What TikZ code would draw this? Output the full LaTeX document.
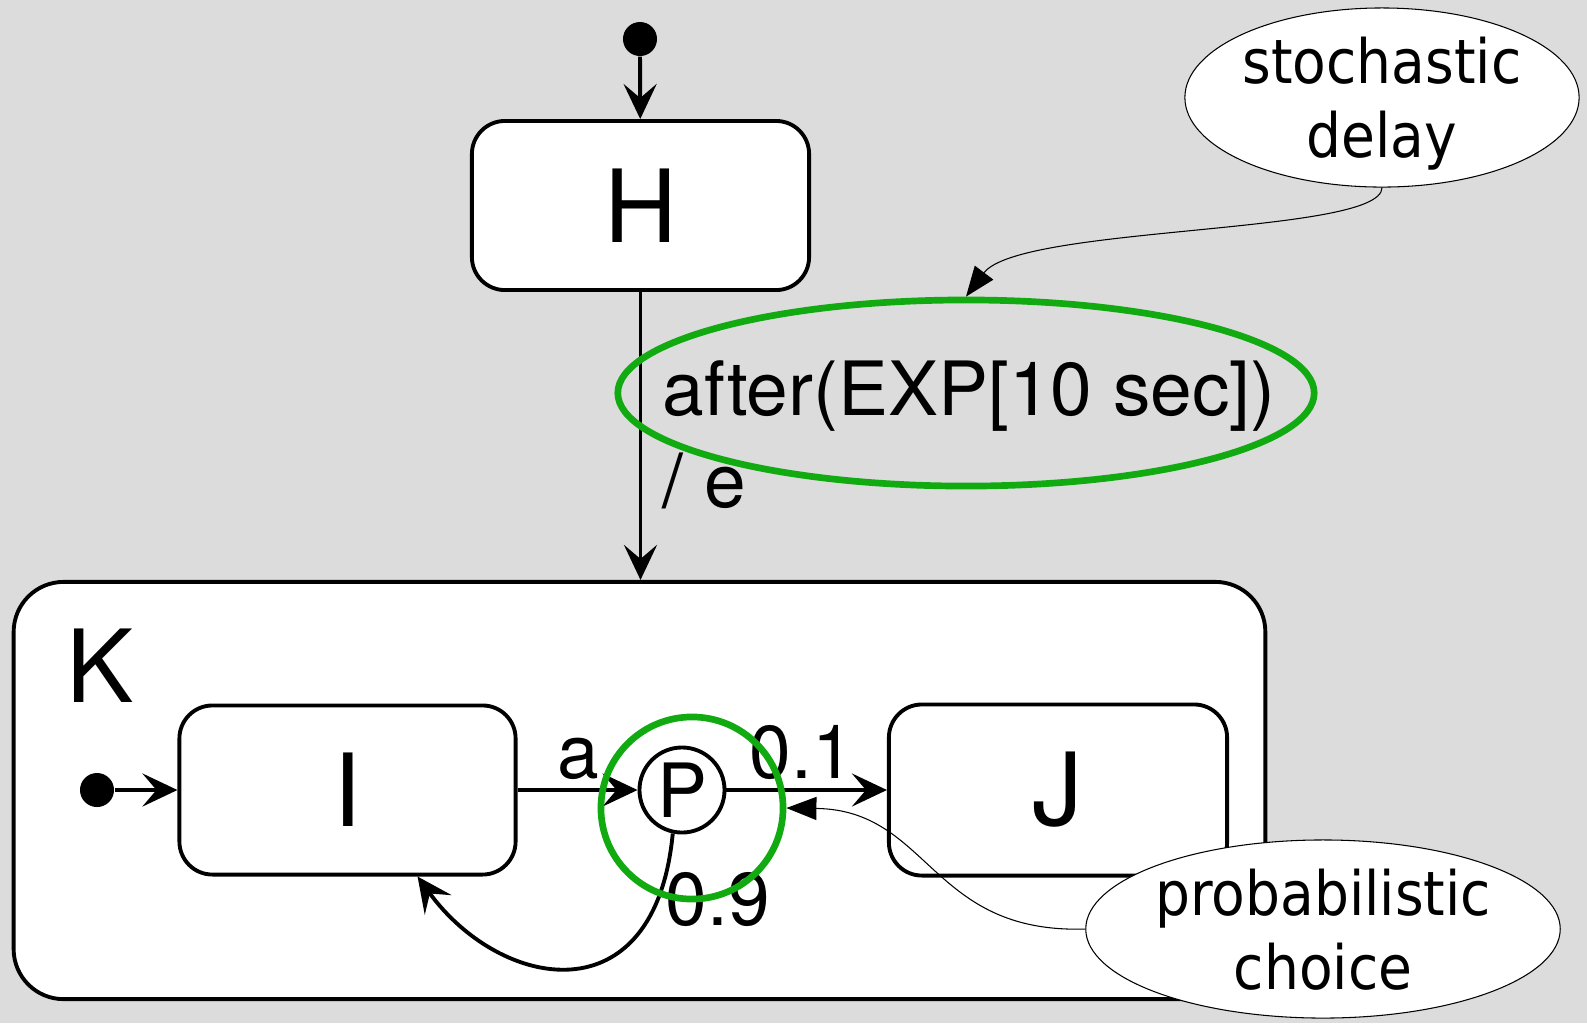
\documentclass[tikz,border=0pt]{standalone}
\usepackage{fontspec}
\setmainfont{TeX Gyre Heros}
\newfontfamily\notefont[FakeStretch=0.9]{DejaVu Sans}
\usetikzlibrary{arrows.meta, shapes.geometric}
\definecolor{bggray}{RGB}{220,220,220}
\definecolor{hlgreen}{RGB}{17,170,17}

\begin{document}
\begin{tikzpicture}
        [
            x=0.01cm, y=-0.01cm,
            statebox/.style={rectangle, rounded corners=0.33cm, draw=black, line width=1.1pt, fill=white, inner sep=0pt, font=\fontsize{28.7}{34}\selectfont},
            initdot/.style={circle, fill=black, inner sep=0pt, minimum size=0.34cm},
            trans/.style={line width=1.1pt, -{Stealth[length=0.35cm, width=0.33cm, inset=0.14cm]}},
            lbl/.style={inner sep=0pt, font=\fontsize{21.3}{25}\selectfont},
            hilite/.style={draw=hlgreen, line width=1.9pt, inner sep=0pt},
            note/.style={ellipse, draw=black, line width=0.3pt, fill=white, inner sep=0pt, text depth=0pt, align=center, font=\notefont\fontsize{17.4}{21}\selectfont},
            noteline/.style={line width=0.3pt, -{Triangle[length=0.3cm, width=0.23cm]}}
        ]
        \fill[bggray] (0,0) rectangle (1587,1023);
        \useasboundingbox (0,0) rectangle (1587,1023);
        % H
        \node[initdot] (init1) at (640,39) {};
        \node[statebox, minimum width=3.37cm, minimum height=1.69cm] (H) at (640.5,205.5) {H};
        \draw[trans] (init1) -- (H);
        % K
        \node[statebox, rounded corners=0.5cm, minimum width=12.51cm, minimum height=4.17cm] (K) at (639.5,790.5) {};
        \node[inner sep=0pt, anchor=base, font=\fontsize{28.7}{34}\selectfont] (Klabel) at (100,702) {K};
        \draw[trans] (H) -- (H.south |- K.north);
        \node[lbl, anchor=base west] (after) at (662,415) {after(EXP[10 sec])};
        \node[lbl, anchor=base west] (act) at (662,507) {/ e};
        % I, P, J
        \node[initdot] (init2) at (97,790) {};
        \node[statebox, minimum width=3.36cm, minimum height=1.69cm] (I) at (347.5,790) {I};
        \node[statebox, minimum width=3.38cm, minimum height=1.71cm] (J) at (1058,790) {J};
        \node[circle, draw=black, line width=1.1pt, fill=white, inner sep=0pt, minimum size=0.85cm, font=\fontsize{21.3}{25}\selectfont] (P) at (682,790) {P};
        \draw[trans] (init2) -- (I);
        \draw[trans] (I) -- (P);
        \draw[trans] (P) -- (J);
        \draw[trans] (P.-102) .. controls (655,1020) and (500,990) .. (I.-51);
        \node[lbl, anchor=base] (ev) at (578,778) {a};
        \node[lbl, anchor=base] (p1) at (802,778) {0.1};
        \node[lbl, anchor=base] (p9) at (718,925) {0.9};
        % highlights
        \node[hilite, ellipse, minimum width=6.96cm, minimum height=1.86cm] (gell) at (966,393) {};
        \node[hilite, circle, minimum size=1.82cm] (gcirc) at (692,808) {};
        % notes
        \node[note, minimum width=3.9cm, minimum height=1.79cm] (stoch) at (1382,97.5) {stochastic\\delay};
        \draw[noteline] (stoch.south) .. controls (1382,235) and (1020,225) .. (gell.north);
        \node[note, minimum width=4.74cm, minimum height=1.78cm] (prob) at (1323,929) {probabilistic\\choice};
        \draw[noteline] (prob.west) .. controls (930,934) and (930,810) .. (gcirc.east);
    \end{tikzpicture}
\end{document}
